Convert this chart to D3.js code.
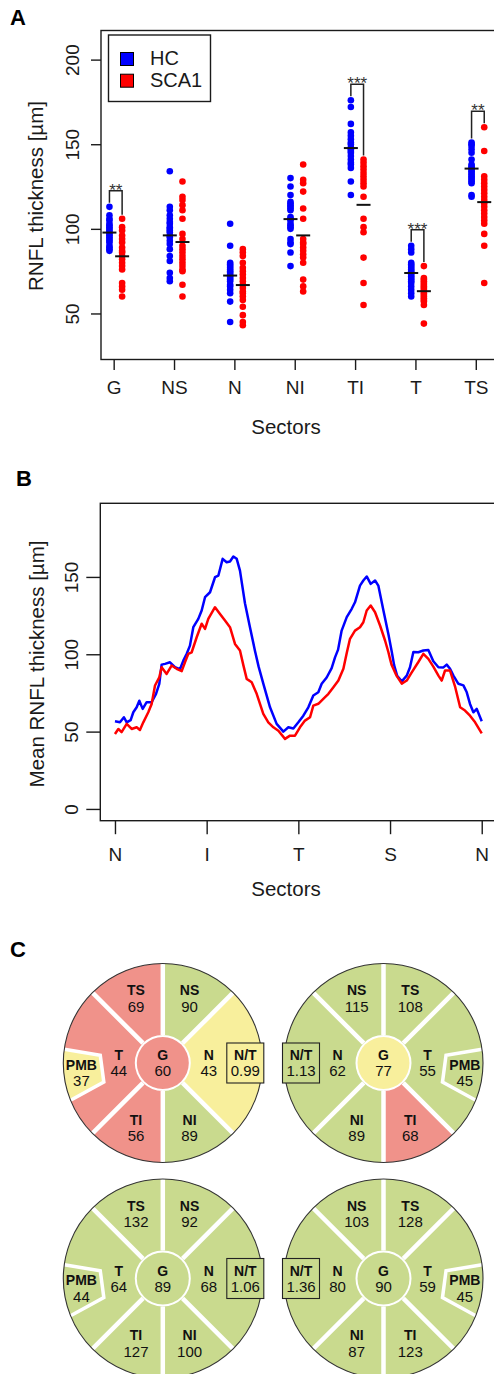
<!DOCTYPE html>
<html>
<head>
<meta charset="utf-8">
<script src="https://cdn.jsdelivr.net/npm/d3@7"></script>
<style>
    body { margin: 0; background: #fff; }
    svg { display: block; }
</style>
</head>
<body>
<script>
(function (d3) {
    "use strict";

    // ---- A: RNFL thickness per sector (one value per eye) ----
    var sectors = ["G", "NS", "N", "NI", "TI", "T", "TS"];
    var hcG = [113, 108, 106, 105, 103, 102, 101, 100, 99, 98, 97, 96, 95, 94, 93, 92, 90, 89, 88, 87];
    var scaG = [106, 101, 99, 96, 94, 92, 89, 87, 86, 84, 82, 80, 78, 76, 68, 66, 64, 60];
    var hcNS = [134, 113, 111, 108, 106, 104, 103, 101, 100, 99, 98, 96, 95, 93, 91, 88, 84, 81, 74, 71, 69];
    var scaNS = [128, 119, 117, 114, 111, 106, 97, 94, 90, 88, 86, 84, 82, 80, 78, 76, 75, 67, 60];
    var hcN = [103, 90, 80, 79, 78, 77, 76, 75, 74, 73, 72, 71, 70, 69, 67, 66, 64, 62, 57, 45];
    var scaN = [88, 86, 84, 80, 77, 75, 73, 71, 69, 67, 65, 63, 62, 60, 58, 54, 49, 45, 43];
    var hcNI = [130, 125, 120, 116, 115, 114, 113, 112, 111, 107, 106, 105, 103, 102, 101, 100, 94, 92, 91, 86, 78];
    var scaNI = [138, 129, 127, 122, 112, 106, 94, 92, 91, 89, 87, 85, 83, 80, 70, 66, 63];
    var hcTI = [176, 172, 162, 157, 155, 153, 151, 150, 148, 147, 146, 145, 143, 141, 139, 138, 136, 128, 120];
    var scaTI = [141, 139, 137, 135, 133, 131, 129, 127, 125, 119, 106, 101, 98, 83, 68, 55];
    var hcT = [90, 88, 86, 80, 79, 78, 77, 76, 75, 74, 73, 72, 71, 70, 69, 68, 66, 64, 62, 60];
    var scaT = [78, 71, 70, 69, 68, 67, 66, 65, 64, 63, 62, 61, 60, 59, 58, 57, 55, 44];
    var hcTS = [151, 150, 149, 147, 145, 141, 138, 137, 136, 135, 134, 133, 132, 131, 130, 129, 128, 127, 120, 119];
    var scaTS = [160, 146, 131, 129, 127, 125, 123, 121, 119, 117, 115, 113, 111, 109, 107, 105, 103, 97, 90, 68];
    var hcThickness = [hcG, hcNS, hcN, hcNI, hcTI, hcT, hcTS];
    var scaThickness = [scaG, scaNS, scaN, scaNI, scaTI, scaT, scaTS];
    var significance = ["**", "", "", "", "***", "***", "**"];
    var yTicksA = [50, 100, 150, 200];
    var groups = ["HC", "SCA1"];

    // ---- B: mean RNFL profile (angle in degrees, N-I-T-S-N) ----
    var profileTicks = [0, 90, 180, 270, 360];
    var profileTickLabels = ["N", "I", "T", "S", "N"];
    var yTicksB = [0, 50, 100, 150];
    var hcAngle = [0, 4.9, 8.8, 11.5, 15.4, 18, 21.3, 23.9, 27.2, 31.1, 36, 40.3, 43.5, 45.8, 49.1, 54, 58.9, 63.8, 67.1, 70.4,
        73.6, 76.9, 81.8, 85.1, 88.4, 93.3, 98.2, 101.5, 105.7, 109.6, 112.9, 116.2, 119.5, 122.7, 127.6, 132.5, 137.5, 141, 145.6, 152.2,
        158.7, 165.3, 170.2, 175.1, 180, 184.9, 189.8, 194.7, 199.6, 202.9, 207.8, 212.7, 216, 219, 222.5, 227.5, 232.4, 235.6, 240.5, 243.8,
        247.1, 251, 255.3, 258.5, 263.5, 268.4, 271.6, 274, 277, 281.5, 286.4, 289.6, 292.9, 297.8, 302.7, 307.6, 312.5, 317.5, 322.4, 325.6,
        328.9, 332.2, 337.1, 342, 345.3, 348.5, 351.8, 355.1, 360];
    var hcProfile = [56.7, 56, 59.3, 56, 57.4, 62.5, 65.7, 70, 64.7, 69, 69, 74.4, 80.9, 93.3, 93.8, 94.8, 91.6, 90.3, 95.9, 100.3,
        105.6, 117.5, 122.9, 128.3, 136.9, 140.1, 149.8, 150.9, 161.7, 159.5, 160, 163.2, 161.7, 154.1, 133, 117.5, 102, 92, 81, 65.7,
        55, 50, 52.8, 52, 56, 60.3, 65.7, 73.3, 75.4, 80.9, 85, 91, 98, 103, 115.3, 124, 129.4, 133.6, 144.4, 147.7,
        150.3, 145.5, 147.7, 144.4, 128.3, 113, 102, 93, 86, 82.5, 86.2, 91.6, 101.5, 101.3, 102.4, 102.8, 95.5, 91.6, 91.5, 93.3,
        90.6, 86.2, 80.9, 79.9, 75.4, 67.9, 62.5, 64.7, 56.7];
    var scaAngle = [0, 3.3, 6.5, 11.5, 16.4, 21.3, 24.5, 27.8, 32.7, 36, 39.3, 43.5, 45.8, 50.7, 55.6, 60.5, 65.5, 68.7, 72, 75.3,
        80.2, 85.1, 88.4, 91.6, 98.2, 103.1, 108, 112.9, 117.8, 122.7, 126, 129.3, 134.2, 139.1, 145.6, 150.5, 155.5, 160.4, 166.9, 171.8,
        176.7, 181.6, 186.5, 191.5, 194.7, 199.6, 204.5, 209.5, 214.4, 219.3, 224.2, 227.5, 230.7, 235.6, 240.5, 243.8, 247.1, 251, 255.3, 260.2,
        265.1, 268.4, 270, 271.6, 276.5, 281.5, 286.4, 291, 297.8, 302.7, 307.6, 312.5, 317.5, 320.7, 324, 328.9, 334, 338.8, 343.6, 348.5,
        353.5, 360];
    var scaProfile = [48.5, 51.7, 49.6, 55, 51.7, 52.8, 51.1, 56, 62.5, 67.9, 79.8, 85.1, 91.6, 87.3, 92.7, 90.6, 89.1, 94.8, 100.3, 101.3,
        111, 119.7, 116.4, 122.9, 130.4, 126.1, 121.8, 117.5, 106.7, 102.4, 93, 84.1, 81.9, 74.4, 61.4, 56, 52.8, 50.6, 45.3, 47.4,
        47.4, 52.8, 57.1, 59.3, 66.8, 68, 71.2, 74.4, 78.7, 83, 90.6, 100.8, 110, 115.3, 117.5, 120.7, 128.3, 131.5, 127.2, 118.6,
        108.9, 101.3, 97, 93, 86, 81, 83, 88, 95, 100.3, 97, 92, 86.2, 83, 89.5, 89.5, 78.7, 65.7, 63.6, 60.3,
        56, 48.9];

    // ---- C: four classification maps (w = within normal, l = borderline, b = outside normal) ----
    var mapSectors = ["G", "T", "TS", "NS", "N", "NI", "TI", "PMB"];
    var map1Values = [60, 44, 69, 90, 43, 89, 56, 37];
    var map1Class = ["b", "b", "b", "w", "l", "w", "b", "l"];
    var map2Values = [77, 55, 108, 115, 62, 89, 68, 45];
    var map2Class = ["l", "w", "w", "w", "w", "w", "b", "w"];
    var map3Values = [89, 64, 132, 92, 68, 100, 127, 44];
    var map3Class = ["w", "w", "w", "w", "w", "w", "w", "w"];
    var map4Values = [90, 59, 128, 103, 80, 87, 123, 45];
    var map4Class = ["w", "w", "w", "w", "w", "w", "w", "w"];
    var ntRatio = [0.99, 1.13, 1.06, 1.36];
    var ntClass = ["l", "w", "w", "w"];

    var W = 494, H = 1374;
    var ink = "#1a1a1a", blue = "#0000ff", red = "#ff0000";
    var font = "'Liberation Sans', Arial, Helvetica, sans-serif";
    var classColor = {w: "#c9da8e", l: "#f8ef9c", b: "#f0928a"};

    var svg = d3.select("body").append("svg")
        .attr("width", W).attr("height", H)
        .style("font-family", font);
    svg.append("rect").attr("width", W).attr("height", H).attr("fill", "#fff");

    function panelLabel(txt, x, y) {
        svg.append("text").attr("x", x).attr("y", y).text(txt)
            .style("font-size", "22px").style("font-weight", "bold").attr("fill", "#000");
    }

    function styleAxis(g) {
        g.select(".domain").remove();
        g.selectAll(".tick line").attr("stroke", ink).attr("stroke-width", 1.4);
        g.selectAll(".tick text").attr("fill", ink)
            .style("font-size", "19px").style("font-family", font);
    }

    function rotateYLabels(g) {
        g.selectAll(".tick text").attr("transform", "rotate(-90)")
            .attr("x", 0).attr("y", -22).attr("dy", 0).attr("text-anchor", "middle");
    }

    function title(g, txt, x, y, rot) {
        g.append("text").attr("transform", "translate(" + x + "," + y + ")" + (rot ? " rotate(-90)" : ""))
            .attr("text-anchor", "middle").attr("fill", ink)
            .style("font-size", "20.5px").text(txt);
    }

    // ================= A =================
    panelLabel("A", 10, 25);
    var xA = d3.scaleLinear().domain([0.79, 7.6]).range([101, 512]);
    var yA = d3.scaleLinear().domain([22.8, 217.2]).range([359.5, 30.5]);
    var offHC = -0.07, offSCA = 0.14;
    var a = svg.append("g");

    a.append("g").attr("transform", "translate(101,0)")
        .call(d3.axisLeft(yA).tickValues(yTicksA).tickSize(10).tickFormat(d3.format("d")))
        .call(styleAxis).call(rotateYLabels);

    a.append("g").attr("transform", "translate(0," + yA(22.8) + ")")
        .call(d3.axisBottom(xA).tickValues(d3.range(1, 8)).tickSize(10.5)
            .tickFormat(function (d) { return sectors[d - 1]; }))
        .call(styleAxis)
        .call(function (g) { g.selectAll(".tick text").attr("y", 34.5).attr("dy", 0); });

    a.append("rect")
        .attr("x", xA(0.79)).attr("y", yA(217.2))
        .attr("width", xA(7.6) - xA(0.79)).attr("height", yA(22.8) - yA(217.2))
        .attr("fill", "none").attr("stroke", ink).attr("stroke-width", 1.4);

    function dots(data, off, color) {
        data.forEach(function (vals, i) {
            a.append("g").selectAll("circle").data(vals).enter().append("circle")
                .attr("cx", xA(i + 1 + off))
                .attr("cy", function (d) { return yA(d); })
                .attr("r", 3.3).attr("fill", color);
        });
    }
    dots(hcThickness, offHC, blue);
    dots(scaThickness, offSCA, red);

    // mean bars
    function means(data, off) {
        a.append("g").selectAll("line").data(data).enter().append("line")
            .attr("x1", function (d, i) { return xA(i + 1 + off) - 7; })
            .attr("x2", function (d, i) { return xA(i + 1 + off) + 7; })
            .attr("y1", function (d) { return yA(d3.mean(d)); })
            .attr("y2", function (d) { return yA(d3.mean(d)); })
            .attr("stroke", "#111").attr("stroke-width", 2);
    }
    means(hcThickness, offHC);
    means(scaThickness, offSCA);

    // significance brackets
    significance.forEach(function (sig, i) {
        if (!sig) { return; }
        var xb = xA(i + 1 + offHC), xr = xA(i + 1 + offSCA);
        var yb = yA(d3.max(hcThickness[i])), yr = yA(d3.max(scaThickness[i]));
        var top = Math.min(yb, yr) - 16;
        a.append("path")
            .attr("d", "M" + xb + "," + (yb - 4) + "V" + top + "H" + xr + "V" + (yr - 4))
            .attr("fill", "none").attr("stroke", "#222").attr("stroke-width", 1.5);
        a.append("text").attr("x", (xb + xr) / 2).attr("y", top + 5)
            .attr("text-anchor", "middle").attr("fill", "#333")
            .style("font-size", "17px").text(sig);
    });

    // legend
    var leg = a.append("g");
    leg.append("rect").attr("x", 108.5).attr("y", 35).attr("width", 102).attr("height", 66.5)
        .attr("fill", "#fff").attr("stroke", ink).attr("stroke-width", 1.4);
    groups.forEach(function (gname, k) {
        leg.append("rect").attr("x", 120.5).attr("y", 52.5 + k * 21.7).attr("width", 13).attr("height", 13)
            .attr("fill", k ? red : blue).attr("stroke", "#000").attr("stroke-width", 1);
        leg.append("text").attr("x", 150).attr("y", 65.3 + k * 21.7).attr("fill", ink)
            .style("font-size", "20px").text(gname);
    });

    title(a, "Sectors", 286, 433.5, false);
    title(a, "RNFL thickness [\u00b5m]", 42.5, 196, true);

    // ================= B =================
    panelLabel("B", 16, 486);
    var xB = d3.scaleLinear().domain([-14.4, 374.4]).range([100.3, 496.4]);
    var yB = d3.scaleLinear().domain([-7.6, 197.6]).range([820.7, 503.3]);
    var b = svg.append("g");

    b.append("g").attr("transform", "translate(" + xB(-14.4) + ",0)")
        .call(d3.axisLeft(yB).tickValues(yTicksB).tickSize(14).tickFormat(d3.format("d")))
        .call(styleAxis).call(rotateYLabels);

    b.append("g").attr("transform", "translate(0," + yB(-7.6) + ")")
        .call(d3.axisBottom(xB).tickValues(profileTicks).tickSize(13.5)
            .tickFormat(function (d, i) { return profileTickLabels[i]; }))
        .call(styleAxis)
        .call(function (g) { g.selectAll(".tick text").attr("y", 40.8).attr("dy", 0); });

    b.append("rect")
        .attr("x", xB(-14.4)).attr("y", yB(197.6))
        .attr("width", xB(374.4) - xB(-14.4)).attr("height", yB(-7.6) - yB(197.6))
        .attr("fill", "none").attr("stroke", ink).attr("stroke-width", 1.4);

    function profile(angles, vals, color) {
        var line = d3.line()
            .x(function (d, i) { return xB(angles[i]); })
            .y(function (d) { return yB(d); });
        b.append("path").datum(vals).attr("d", line)
            .attr("fill", "none").attr("stroke", color)
            .attr("stroke-width", 2.5).attr("stroke-linejoin", "round");
    }
    profile(hcAngle, hcProfile, blue);
    profile(scaAngle, scaProfile, red);

    title(b, "Sectors", 286, 895.5, false);
    title(b, "Mean RNFL thickness [\u00b5m]", 44, 664, true);

    // ================= C =================
    panelLabel("C", 10, 957);
    var c = svg.append("g");
    var R = 99.5, rIn = 28, rG = 26;
    var deg = Math.PI / 180;
    // angles clockwise from 12 o'clock, temporal side on the left
    var sectorAngles = {T: [225, 315], TS: [315, 360], NS: [0, 45], N: [45, 135], NI: [135, 180], TI: [180, 225]};
    var labelRadius = {G: 0, T: 44, N: 46, TS: 70, NS: 70, NI: 70, TI: 70, PMB: 82};
    var separators = [0, 45, 135, 180, 225, 315];
    var maps = [
        {values: map1Values, cls: map1Class, cx: 162.8, cy: 1063, flip: 1},
        {values: map2Values, cls: map2Class, cx: 383.5, cy: 1063, flip: -1},
        {values: map3Values, cls: map3Class, cx: 162.8, cy: 1278.5, flip: 1},
        {values: map4Values, cls: map4Class, cx: 383.5, cy: 1278.5, flip: -1}
    ];

    function pt(m, r, ang) {
        var t = m.flip * ang * deg;
        return [m.cx + r * Math.sin(t), m.cy - r * Math.cos(t)];
    }

    maps.forEach(function (m, k) {
        var g = c.append("g");
        var colorOf = function (name) { return classColor[m.cls[mapSectors.indexOf(name)]]; };

        // outer sectors
        var arc = d3.arc().innerRadius(rIn).outerRadius(R);
        Object.keys(sectorAngles).forEach(function (name) {
            var s = sectorAngles[name].map(function (v) { return v * m.flip * deg; });
            g.append("path")
                .attr("transform", "translate(" + m.cx + "," + m.cy + ")")
                .attr("d", arc({startAngle: Math.min(s[0], s[1]), endAngle: Math.max(s[0], s[1])}))
                .attr("fill", colorOf(name));
        });

        // papillomacular bundle notch
        var p1 = pt(m, R, 278), p2 = pt(m, 63, 277), p3 = pt(m, 62, 252), p4 = pt(m, R, 248);
        g.append("path")
            .attr("d", "M" + p1 + "L" + p2 + "L" + p3 + "L" + p4 +
                "A" + R + "," + R + " 0 0 " + (m.flip > 0 ? 1 : 0) + " " + p1 + "Z")
            .attr("fill", colorOf("PMB"));
        g.append("path").attr("d", "M" + p1 + "L" + p2 + "L" + p3 + "L" + p4)
            .attr("fill", "none").attr("stroke", "#fff").attr("stroke-width", 3.5);

        // white separators
        separators.forEach(function (ang) {
            var q0 = pt(m, rIn, ang), q1 = pt(m, R + 1, ang);
            g.append("line").attr("x1", q0[0]).attr("y1", q0[1]).attr("x2", q1[0]).attr("y2", q1[1])
                .attr("stroke", "#fff").attr("stroke-width", 4.5);
        });

        g.append("circle").attr("cx", m.cx).attr("cy", m.cy).attr("r", rG).attr("fill", colorOf("G"));
        g.append("circle").attr("cx", m.cx).attr("cy", m.cy).attr("r", R)
            .attr("fill", "none").attr("stroke", "#333").attr("stroke-width", 1.1);

        // N/T ratio box
        var bx = pt(m, 82.5, 90);
        g.append("rect").attr("x", bx[0] - 18.5).attr("y", bx[1] - 20).attr("width", 37).attr("height", 40)
            .attr("fill", classColor[ntClass[k]]).attr("stroke", "#222").attr("stroke-width", 1.1);

        function label(x, y, name, val) {
            g.append("text").attr("x", x).attr("y", y - 3).attr("text-anchor", "middle")
                .attr("fill", "#111").style("font-size", "14px").style("font-weight", "bold").text(name);
            g.append("text").attr("x", x).attr("y", y + 13.4).attr("text-anchor", "middle")
                .attr("fill", "#111").style("font-size", "15px").text(val);
        }
        label(bx[0], bx[1], "N/T", d3.format(".2f")(ntRatio[k]));

        mapSectors.forEach(function (name, i) {
            var ang = name === "PMB" ? 263 :
                name === "G" ? 0 : (sectorAngles[name][0] + sectorAngles[name][1]) / 2;
            var p = pt(m, labelRadius[name], ang);
            label(p[0], p[1], name, m.values[i]);
        });
    });
})(d3);
</script>
</body>
</html>
